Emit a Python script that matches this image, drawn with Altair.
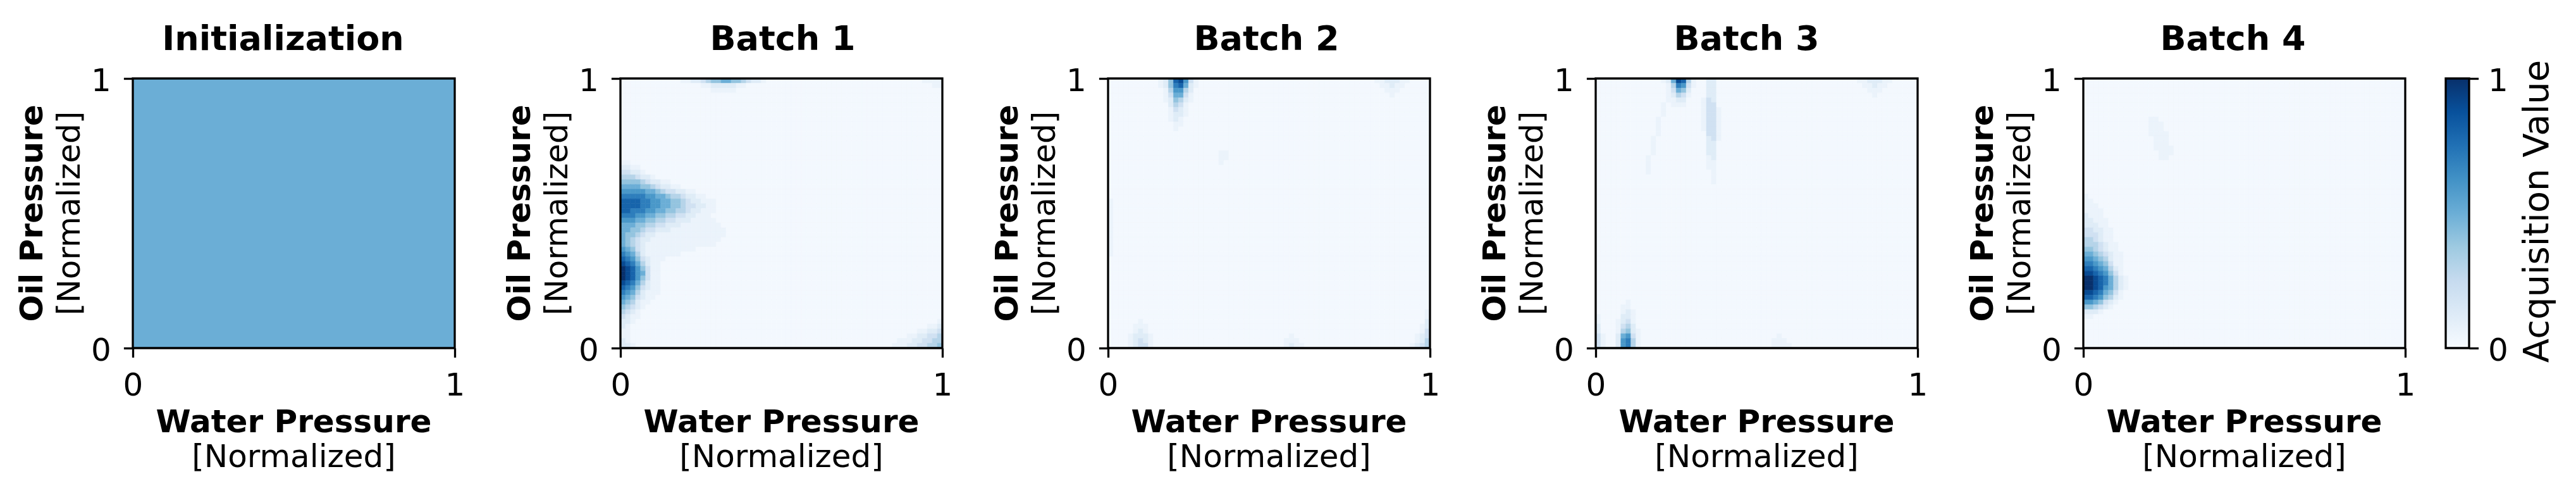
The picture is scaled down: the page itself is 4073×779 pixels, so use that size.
import altair as alt

FONT = "DejaVu Sans"

# ---------------------------------------------------------------- text
TITLES = ["Initialization", "Batch 1", "Batch 2", "Batch 3", "Batch 4"]
TITLE_SHIFT = [-17, 2, -4, -16, -18]
X_TITLE = ["Water Pressure", "[Normalized]"]
Y_TITLE = ["Oil Pressure", "[Normalized]"]
CBAR_TITLE = "Acquisition Value"

X_TICKS = [0, 1]
Y_TICKS = [0, 1]
CBAR_TICKS = [0, 1]

# ---------------------------------------------------------------- colour map (matplotlib "Blues")
BLUES_STOPS = [0, 0.125, 0.25, 0.375, 0.5, 0.625, 0.75, 0.875, 1]
BLUES_COLORS = ["#f7fbff", "#deebf7", "#c6dbef", "#9ecae1", "#6baed6",
                "#4292c6", "#2171b5", "#08519c", "#08306b"]

# acquisition-value levels used in the grids
LEVELS = {"0": 0.02, "1": 0.06, "2": 0.12, "3": 0.2, "4": 0.3, "5": 0.4,
          "6": 0.5, "7": 0.6, "8": 0.7, "9": 0.8, "a": 0.9, "b": 1.0}

# ---------------------------------------------------------------- grids
# rows run from Oil Pressure = 1 (top) to 0 (bottom); columns from Water
# Pressure = 0 to 1.  64 columns x 56 rows, written in blocks of 8,
# trailing background cells omitted.
INIT_GRID = ["6"]          # uniform acquisition value 0.5

BATCH1_GRID = [
    "00000000 00001122 34556655 43221000 00000000 00000000 00000000 00001111",
    "00000000 00000000 11222221 10000000 00000000 00000000 00000000 00000011",
    "00000000 00000000 00111110",
    "", "", "", "", "", "", "", "", "", "", "", "", "", "",
    "11",
    "2211",
    "33221",
    "4443221",
    "55554322 11",
    "66665543 2211",
    "77777665 4332211",
    "88888776 65443221 1",
    "99998877 66554322 111",
    "99998877 66554332 211",
    "99888776 65544322 111",
    "88877665 54433221 11",
    "77766554 43322211 111",
    "66655443 32221111 1111",
    "66554332 22111111 11111",
    "65543221 11111111 11111",
    "65432211 11111111 1111",
    "65432111 11111111 111",
    "76532111 1111111",
    "87642111 1111",
    "98753211 1",
    "a9864211",
    "ba975311",
    "ba976311",
    "ba975311",
    "a9864211",
    "98753211",
    "87642111",
    "7653211",
    "654211",
    "54321",
    "4321",
    "3211",
    "22100000 00000000 00000000 00000000 00000000 00000000 00000000 00000001",
    "21000000 00000000 00000000 00000000 00000000 00000000 00000000 00000112",
    "11000000 00000000 00000000 00000000 00000000 00000000 00000000 00011223",
    "11000000 00000000 00000000 00000000 00000000 00000000 00000000 01122334",
    "21000000 00000000 00000000 00000000 00000000 00000000 00000001 11223344",
    "22100000 00000000 00000000 00000000 00000000 00000000 00000011 12233445",
]

BATCH2_GRID = [
    "00000000 001259a7 31000000 00000000 00000000 00000000 00000112 22110000",
    "00000000 00125896 21000000 00000000 00000000 00000000 00000011 21100000",
    "00000000 00014774 20000000 00000000 00000000 00000000 00000001 11000000",
    "00000000 00013663 10000000 00000000 00000000 00000000 00000000 10000000",
    "00000000 00012542 1",
    "00000000 00002431",
    "00000000 00001321",
    "00000000 00001221",
    "00000000 0000121",
    "00000000 0000011",
    "00000000 000001",
    "", "", "", "",
    "00000000 00000000 00000011",
    "00000000 00000000 00000011",
    "00000000 00000000 0000001",
    "", "", "", "", "", "", "",
    "1", "1", "1", "1", "1", "1", "1", "1", "1", "1", "1", "1",
    "", "", "", "", "", "", "", "", "", "", "",
    "00000000 00000000 00000000 00000000 00000000 00000000 00000000 00000001",
    "00000000 00000000 00000000 00000000 00000000 00000000 00000000 00000001",
    "00000010 00000000 00000000 00000000 00000000 00000000 00000000 00000002",
    "00000111 00000000 00000000 00000000 00000000 00000000 00000000 00000012",
    "00000121 00000000 00000000 00000000 00000000 00000000 00000000 00000013",
    "00001222 10000000 00000000 00000000 00001000 00000000 00000000 00000123",
    "00001232 10000000 00000000 00000000 00011100 00000000 00000000 00000124",
    "00001233 10000000 00000000 00000000 00012110 00000000 00000000 00001234",
]

BATCH3_GRID = [
    "00000000 00000126 a9410022 00000000 00000000 00000000 00001122 21100000",
    "00000000 00000014 87310022 00000000 00000000 00000000 00000112 11000000",
    "00000000 00000013 65200022 00000000 00000000 00000000 00000011 10000000",
    "00000000 00000012 43100022 00000000 00000000 00000000 00000001",
    "00000000 00000011 22000132",
    "00000000 00000101 11000133",
    "00000000 00000100 00000133 1",
    "00000000 00000100 00000133 1",
    "00000000 00001000 00000133 1",
    "00000000 00001000 00000133 1",
    "00000000 00001000 00000133 1",
    "00000000 00001000 00000033 1",
    "00000000 00010000 00000023 1",
    "00000000 00010000 00000022",
    "00000000 00010000 00000022",
    "00000000 00010000 00000022",
    "00000000 00100000 00000012",
    "00000000 00100000 00000011",
    "00000000 00100000 00000011",
    "00000000 00100000 00000001",
    "00000000 00000000 00000001",
    "00000000 00000000 00000001",
    "", "", "", "", "", "", "", "", "", "", "", "",
    "", "", "", "", "", "", "", "", "", "", "", "",
    "00000010",
    "00000110",
    "00000121",
    "10000221",
    "10001231",
    "20001342",
    "20001452 1",
    "31002673 10000000 00000000 00000000 00001000",
    "31002784 10000000 00000000 00000000 00011100",
    "31002784 10000000 00000000 00000000 00011110",
]

BATCH4_GRID = [
    "", "", "", "", "", "", "", "",
    "00000000 00000110",
    "00000000 00000111",
    "00000000 00000111",
    "00000000 00000111 1",
    "00000000 00000011 1",
    "00000000 00000011 1",
    "00000000 00000011 11",
    "00000000 00000001 11",
    "00000000 00000001 1",
    "", "", "", "", "", "", "",
    "1",
    "11",
    "111",
    "1111",
    "2111",
    "22111",
    "22211",
    "332211",
    "333211",
    "443211",
    "4443211",
    "5543211",
    "66543211",
    "77654211",
    "88765311",
    "99876421",
    "aa987531",
    "bba98642 1",
    "bba98642 1",
    "bba97642 1",
    "aa986531",
    "99875421",
    "7765321",
    "554321",
    "2221",
    "11",
    "", "", "", "", "", "",
]

GRIDS = [(INIT_GRID, 1), (BATCH1_GRID, 64), (BATCH2_GRID, 64),
         (BATCH3_GRID, 64), (BATCH4_GRID, 64)]


def cells(grid, ncols):
    nrows = len(grid)
    out = []
    for r, line in enumerate(grid):
        line = line.replace(" ", "").ljust(ncols, "0")[:ncols]
        for c, ch in enumerate(line):
            out.append({"x0": c / ncols, "x1": (c + 1) / ncols,
                        "y0": 1 - (r + 1) / nrows, "y1": 1 - r / nrows,
                        "value": LEVELS[ch]})
    return out


# ---------------------------------------------------------------- layout
W, H = 509, 426
SPACING = 262
CBAR_W = 37
CBAR_GAP = 64

color_scale = alt.Scale(domain=BLUES_STOPS, range=BLUES_COLORS, interpolate="rgb")

one_row = alt.Data(values=[{"k": 0}])


def text(label, x, y, size=50, bold=False, angle=0):
    return alt.Chart(one_row).mark_text(
        text=label, font=FONT, fontSize=size,
        fontWeight="bold" if bold else "normal",
        align="center", baseline="alphabetic", angle=angle, color="black",
    ).encode(x=alt.value(x), y=alt.value(y))


def unit_scale():
    return alt.Scale(domain=[0, 1], nice=False, zero=False)


def panel(k):
    grid, nc = GRIDS[k]
    heat = alt.Chart(alt.Data(values=cells(grid, nc))).mark_rect(
        strokeWidth=0.6
    ).encode(
        x=alt.X("x0:Q", scale=unit_scale(),
                axis=alt.Axis(values=X_TICKS, format="d", title=None)),
        x2="x1:Q",
        y=alt.Y("y0:Q", scale=unit_scale(),
                axis=alt.Axis(values=Y_TICKS, format="d", title=None)),
        y2="y1:Q",
        color=alt.Color("value:Q", scale=color_scale, legend=None),
        stroke=alt.Stroke("value:Q", scale=color_scale, legend=None),
    )
    frame = alt.Chart(one_row).mark_rect(
        filled=False, stroke="black", strokeWidth=3.3
    ).encode(x=alt.value(0), x2=alt.value("width"), y=alt.value(0), y2=alt.value("height"))

    layers = [
        heat, frame,
        text(TITLES[k], W / 2 + TITLE_SHIFT[k], -45, size=54, bold=True),
        text(X_TITLE[0], W / 2, 559, bold=True),
        text(X_TITLE[1], W / 2, 614),
        text(Y_TITLE[0], -143, H / 2, bold=True, angle=270),
        text(Y_TITLE[1], -84.5, H / 2, angle=270),
    ]
    if k == len(GRIDS) - 1:
        layers.append(text(CBAR_TITLE, 735, 210, size=56, angle=270))
    return alt.layer(*layers).properties(width=W, height=H)


# colour bar: one rectangle spanning acquisition values 0..1, painted with the
# same Blues stops, with its own right-hand axis
cbar = alt.Chart(
    alt.Data(values=[{"lo": CBAR_TICKS[0], "hi": CBAR_TICKS[-1]}])
).mark_rect(
    fill=alt.Gradient(
        gradient="linear",
        stops=[alt.GradientStop(offset=o, color=c) for o, c in zip(BLUES_STOPS, BLUES_COLORS)],
        x1=0, x2=0, y1=1, y2=0,
    ),
    stroke="black", strokeWidth=3.3,
).encode(
    x=alt.value(0), x2=alt.value("width"),
    y=alt.Y("lo:Q", scale=unit_scale(),
            axis=alt.Axis(orient="right", values=CBAR_TICKS, format="d",
                          title=None, labelPadding=15)),
    y2="hi:Q",
).properties(width=CBAR_W, height=H)

panels = [panel(k) for k in range(len(GRIDS))]
last = alt.hconcat(panels[-1], cbar, spacing=CBAR_GAP, bounds="flush")

chart = (
    alt.hconcat(*panels[:-1], last, spacing=SPACING, bounds="flush")
    .resolve_scale(color="shared", stroke="shared")
    .properties(padding={"left": 19, "top": 28, "right": 5, "bottom": 5})
    .configure_view(strokeWidth=0)
    .configure_axis(
        labelFont=FONT, labelFontSize=50, labelColor="black",
        tickColor="black", tickSize=14.6, tickWidth=3.3,
        domain=False, grid=False, labelPadding=20, labelFlush=False,
    )
    .configure_axisY(labelOffset=4)
)

chart.save("out.html", embed_options={"renderer": "svg", "actions": False})
